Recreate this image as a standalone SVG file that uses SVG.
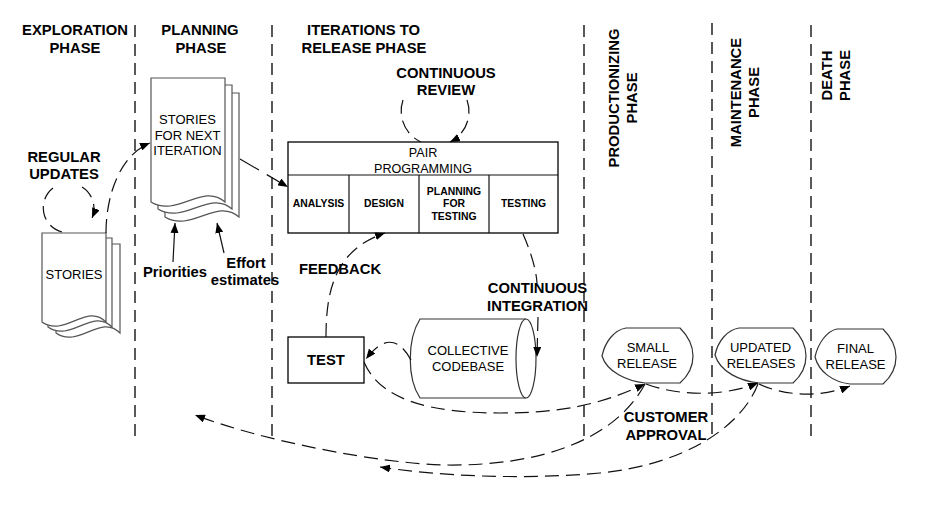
<svg xmlns="http://www.w3.org/2000/svg" width="942" height="509" viewBox="0 0 942 509">
<style>
text{font-family:"Liberation Sans",Arial,sans-serif;fill:#000;text-anchor:middle}
.lbl{font-size:14.8px;font-weight:bold}
.nd{font-size:13px}
.pp{font-size:12.6px}
.cell{font-size:10.4px;font-weight:bold}
.phase{stroke:#000;stroke-width:1.3;stroke-dasharray:12 7;fill:none}
.conn{stroke:#111;stroke-width:1.2;fill:none;stroke-dasharray:14 7}
.solid{stroke:#111;stroke-width:1.2;fill:none}
.doc{fill:#fff;stroke:#555;stroke-width:1.2}
.box{fill:#fff;stroke:#000;stroke-width:1.3}
.rel{fill:#fff;stroke:#333;stroke-width:1.2}
</style>
<defs>
<marker id="ah" viewBox="0 0 10 8" refX="10" refY="4" markerWidth="10" markerHeight="8" markerUnits="userSpaceOnUse" orient="auto">
<path d="M0,0 L10,4 L0,8 Z" fill="#000"/>
</marker>
</defs>
<rect width="942" height="509" fill="#fff"/>
<g id="phase-lines">
<line class="phase" x1="135" y1="25" x2="135" y2="438"/>
<line class="phase" x1="272" y1="25" x2="272" y2="437"/>
<line class="phase" x1="584" y1="25" x2="584" y2="437"/>
<line class="phase" x1="712" y1="23" x2="712" y2="437"/>
<line class="phase" x1="811" y1="25" x2="811" y2="437"/>
</g>
<g id="phase-titles">
<text class="lbl" x="75" y="35">EXPLORATION</text>
<text class="lbl" x="75" y="52.5">PHASE</text>
<text class="lbl" x="200" y="35">PLANNING</text>
<text class="lbl" x="201" y="52.5">PHASE</text>
<text class="lbl" x="363.5" y="35">ITERATIONS TO</text>
<text class="lbl" x="364" y="52.5">RELEASE PHASE</text>
<text class="lbl" transform="translate(619,98) rotate(-90)">PRODUCTIONIZING</text>
<text class="lbl" transform="translate(637,98) rotate(-90)">PHASE</text>
<text class="lbl" transform="translate(741,92.5) rotate(-90)">MAINTENANCE</text>
<text class="lbl" transform="translate(759,92.5) rotate(-90)">PHASE</text>
<text class="lbl" transform="translate(832,75.5) rotate(-90)">DEATH</text>
<text class="lbl" transform="translate(850,75.5) rotate(-90)">PHASE</text>
</g>
<g id="stories">
<path class="doc" d="M56,244 H120 V333 C100.8,313 78.4,349 56,333 Z"/>
<path class="doc" d="M48,238 H112 V327 C92.8,307 70.4,343 48,327 Z"/>
<path class="doc" d="M42,233 H106 V322 C86.8,302 64.4,338 42,322 Z"/>
<text class="nd" x="74" y="279">STORIES</text>
</g>
<g id="stories-next">
<path class="doc" d="M165,93 H239 V217 C216.8,197 190.9,233 165,217 Z"/>
<path class="doc" d="M158,85 H232 V209 C209.8,189 183.9,225 158,209 Z"/>
<path class="doc" d="M151,78 H225 V202 C202.8,182 176.9,218 151,202 Z"/>
<text class="nd" x="187.5" y="124">STORIES</text>
<text class="nd" x="187.5" y="140">FOR NEXT</text>
<text class="nd" x="187.5" y="155">ITERATION</text>
</g>
<g id="pair-programming">
<rect class="box" x="288" y="142" width="270" height="91"/>
<line class="solid" x1="288" y1="175" x2="558" y2="175" stroke="#000"/>
<line class="solid" x1="349" y1="175" x2="349" y2="233" stroke="#000"/>
<line class="solid" x1="419" y1="175" x2="419" y2="233" stroke="#000"/>
<line class="solid" x1="489" y1="175" x2="489" y2="233" stroke="#000"/>
<text class="pp" x="423" y="157">PAIR</text>
<text class="pp" x="423" y="173">PROGRAMMING</text>
<text class="cell" x="318.5" y="207">ANALYSIS</text>
<text class="cell" x="384" y="207">DESIGN</text>
<text class="cell" x="454" y="195">PLANNING</text>
<text class="cell" x="454" y="207">FOR</text>
<text class="cell" x="454" y="220">TESTING</text>
<text class="cell" x="523.5" y="207">TESTING</text>
</g>
<g id="test">
<rect class="box" x="288" y="337" width="76" height="46"/>
<text class="lbl" x="326" y="365">TEST</text>
</g>
<g id="collective-codebase">
<path class="rel" d="M526,319 L420,319 C407,340 407,378 420,398 L526,398"/>
<ellipse class="rel" cx="526" cy="358.5" rx="10" ry="39.5"/>
<text class="nd" x="468" y="355">COLLECTIVE</text>
<text class="nd" x="468" y="371">CODEBASE</text>
</g>
<g id="small-release">
<path class="rel" d="M602,356 C605,342 614,330 626,328 L680,328 C688,336 693,346 693,356 C693,367 688,376 680,383 L645,383 C627,381 607,372 602,356 Z"/>
<text class="nd" x="648" y="352">SMALL</text>
<text class="nd" x="647" y="368">RELEASE</text>
</g>
<g id="updated-releases">
<path class="rel" d="M715,355 C718,341 727,330 739,328 L793,328 C801,336 806,346 806,356 C806,367 801,376 793,383 L759,383 C740,381 720,372 715,355 Z"/>
<text class="nd" x="760.5" y="352">UPDATED</text>
<text class="nd" x="761" y="368">RELEASES</text>
</g>
<g id="final-release">
<path class="rel" d="M815,357 C818,343 827,331 837,329 L883,329 C891,337 896,347 896,357 C896,368 891,377 883,384 L850,384 C833,382 819,372 815,357 Z"/>
<text class="nd" x="855.5" y="353">FINAL</text>
<text class="nd" x="855.5" y="369">RELEASE</text>
</g>
<g id="connectors">
<path class="conn" d="M53,188 A25 25 0 0 0 62,232"/>
<path class="conn" d="M82,187 A25 25 0 0 1 92,218" marker-end="url(#ah)"/>
<path class="conn" d="M106,233 C106,195 120,155 150,143" marker-end="url(#ah)"/>
<path class="conn" style="stroke-dasharray:22 9" d="M240,159 L288,187" marker-end="url(#ah)"/>
<path class="solid" d="M173,262 L175,223" marker-end="url(#ah)"/>
<path class="solid" d="M224,253 L217,223" marker-end="url(#ah)"/>
<path class="conn" d="M403,100 A34 34 0 0 0 421,142"/>
<path class="conn" d="M467,100 A34 34 0 0 1 450,142" marker-end="url(#ah)"/>
<path class="conn" d="M326,337 C326,290 335,250 385,233" marker-end="url(#ah)"/>
<path class="conn" d="M523,234 C530,250 536,268 537,283"/>
<path class="conn" d="M538,317 L537,357" marker-end="url(#ah)"/>
<path class="conn" d="M411,360 Q392,325 366,359" marker-end="url(#ah)"/>
<path class="conn" d="M364,362 C380,400 430,413 500,413 C560,413 600,405 645,384" marker-end="url(#ah)"/>
<path class="conn" d="M646,384 C675,395 720,398 758,383" marker-end="url(#ah)"/>
<path class="conn" d="M759,384 C785,396 820,398 850,386" marker-end="url(#ah)"/>
<path class="conn" d="M645,384 C615,440 540,466 447,465 C380,464 260,440 195,415" marker-end="url(#ah)"/>
<path class="conn" d="M758,384 C740,430 680,465 600,473 C520,480 440,476 380,467" marker-end="url(#ah)"/>
</g>
<g id="labels">
<text class="lbl" x="64" y="162">REGULAR</text>
<text class="lbl" x="64" y="179">UPDATES</text>
<text class="lbl" x="446" y="77.5">CONTINUOUS</text>
<text class="lbl" x="446" y="95">REVIEW</text>
<text class="lbl" x="175" y="277">Priorities</text>
<text class="lbl" x="246" y="268">Effort</text>
<text class="lbl" x="245" y="285">estimates</text>
<text class="lbl" x="340" y="274">FEEDBACK</text>
<text class="lbl" x="537.5" y="293">CONTINUOUS</text>
<text class="lbl" x="537.5" y="311">INTEGRATION</text>
<text class="lbl" x="666" y="422">CUSTOMER</text>
<text class="lbl" x="666" y="440">APPROVAL</text>
</g>
</svg>
